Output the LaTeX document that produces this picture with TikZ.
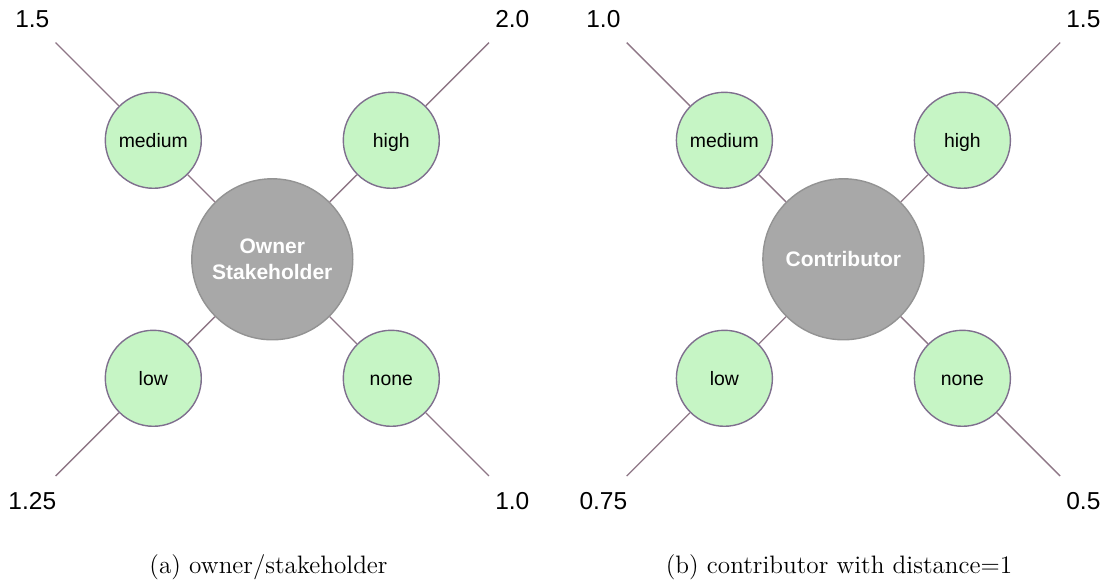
\documentclass[tikz,border=0pt]{standalone}
\usepackage{fontspec}
\newfontfamily\arialish{Liberation Sans}
\definecolor{leaf}{HTML}{C6F5C5}
\definecolor{leafline}{HTML}{7F6F8E}
\definecolor{wire}{HTML}{8E7686}
\definecolor{hub}{HTML}{A8A8A8}
\definecolor{hubline}{HTML}{939393}
\tikzset{
  leafnode/.style={circle, draw=leafline, fill=leaf, line width=0.7pt, minimum size=48pt, inner sep=0pt,
    font=\arialish\fontsize{9.7}{11}\selectfont, text height=7pt, text depth=0pt},
  hubnode/.style={circle, draw=hubline, fill=hub, line width=0.7pt, minimum size=80.5pt, inner sep=0pt,
    text=white, align=center, font=\arialish\bfseries\fontsize{10.5}{13}\selectfont},
  wireline/.style={draw=wire, line width=0.65pt},
  valuelabel/.style={anchor=base, inner sep=0pt, font=\arialish\fontsize{12.25}{14}\selectfont},
  captionlabel/.style={anchor=base, inner sep=0pt, font=\fontsize{12.6}{14}\selectfont},
}
\newcommand\stardiagram[7]{%
  \node[hubnode] (#1c) at (#2,259.3) {#3};
  \node[leafnode] (#1m) at (#2-119,140.3) {medium};
  \node[leafnode] (#1h) at (#2+119,140.3) {high};
  \node[leafnode] (#1l) at (#2-119,378.3) {low};
  \node[leafnode] (#1n) at (#2+119,378.3) {none};
  \coordinate (#1tl) at (#2-216.7,42.6);
  \coordinate (#1tr) at (#2+216.7,42.6);
  \coordinate (#1bl) at (#2-216.7,476);
  \coordinate (#1br) at (#2+216.7,476);
  \draw[wireline] (#1tl) -- (#1m);
  \draw[wireline] (#1m) -- (#1c);
  \draw[wireline] (#1tr) -- (#1h);
  \draw[wireline] (#1h) -- (#1c);
  \draw[wireline] (#1bl) -- (#1l);
  \draw[wireline] (#1l) -- (#1c);
  \draw[wireline] (#1br) -- (#1n);
  \draw[wireline] (#1n) -- (#1c);
  \node[valuelabel] (#1tlv) at (#2-240,28) {#4};
  \node[valuelabel] (#1trv) at (#2+240,28) {#5};
  \node[valuelabel] (#1blv) at (#2-240,509.5) {#6};
  \node[valuelabel] (#1brv) at (#2+240,509.5) {#7};
}
\begin{document}
\begin{tikzpicture}[x=0.5pt,y=-0.5pt]
  \useasboundingbox (0,0) rectangle (1105,581);
  \stardiagram{a}{272.3}{Owner\\Stakeholder}{1.5}{2.0}{1.25}{1.0}
  \stardiagram{b}{843.4}{Contributor}{1.0}{1.5}{0.75}{0.5}
  \node[captionlabel] (capa) at (268.5,573.5) {(a) owner/stakeholder};
  \node[captionlabel] (capb) at (839,573.5) {(b) contributor with distance=1};
\end{tikzpicture}
\end{document}
